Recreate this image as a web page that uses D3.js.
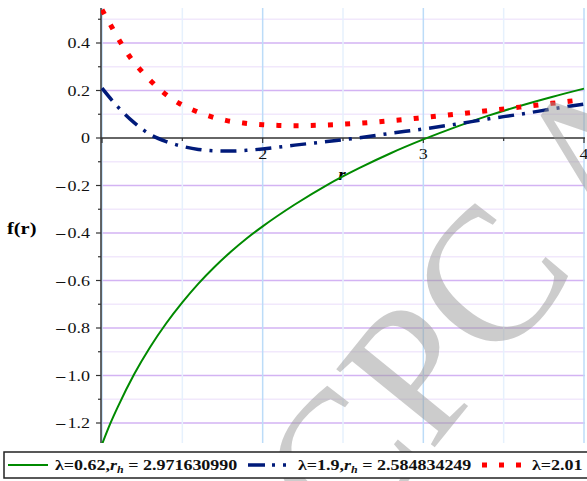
<!DOCTYPE html>
<html><head><meta charset="utf-8">
<script src="https://cdn.jsdelivr.net/npm/d3@7"></script>
<style>body{margin:0;background:#fff}svg{display:block}</style>
</head><body>
<script>
// ---- data ----
const rGreen = [1.0,1.05,1.1,1.2,1.3,1.4,1.5,1.6,1.7,1.8,1.9,2.0,2.2,2.4,2.6,2.8,3.0,3.2,3.4,3.6,3.8,4.0];
const fGreen = [-1.29,-1.205,-1.13,-0.995,-0.88,-0.78,-0.692,-0.613,-0.543,-0.48,-0.423,-0.372,-0.28,-0.198,-0.127,-0.063,-0.006,0.046,0.093,0.135,0.173,0.208];
const rBlue = [1.0,1.1,1.2,1.3,1.4,1.5,1.6,1.7,1.8,1.9,2.0,2.2,2.4,2.6,2.8,3.0,3.2,3.4,3.6,3.8,4.0];
const fBlue = [0.21,0.13,0.065,0.015,-0.015,-0.035,-0.048,-0.054,-0.055,-0.052,-0.046,-0.03,-0.015,0.001,0.02,0.038,0.058,0.08,0.1,0.122,0.143];
const rRed = [1.0,1.05,1.1,1.17,1.235,1.31,1.385,1.475,1.57,1.665,1.77,1.88,2.0,2.1,2.2,2.3,2.4,2.5,2.6,2.7,2.8,2.9,3.0,3.2,3.4,3.6,3.8,4.0];
const fRed = [0.54,0.48,0.42,0.345,0.29,0.236,0.19,0.148,0.117,0.093,0.074,0.063,0.056,0.053,0.052,0.053,0.055,0.058,0.062,0.067,0.073,0.079,0.086,0.1,0.115,0.13,0.146,0.162];
const yTickVals = [-1.2,-1.0,-0.8,-0.6,-0.4,-0.2,0,0.2,0.4];
const yTickLabels = ["1.2","1.0","0.8","0.6","0.4","0.2","0","0.2","0.4"];
const xTickVals = [2,3,4];
const xTickLabels = ["2","3","4"];
const legendNames = ["λ=0.62,", "λ=1.9,", "λ=2.01"];
const legendRh = ["2.971630990", "2.584834249", null];

const W = 587, H = 481;
const svg = d3.select("body").append("svg").attr("width", W).attr("height", H);
const x = d3.scaleLinear().domain([1, 4]).range([102, 584]);
const y = d3.scaleLinear().domain([0, 0.2]).range([138, 90.5]);
const pTop = 8, pBottom = 443, pLeft = 101, pRight = 585;
const SX = 1.2; // horizontal stretch of the reference's text

svg.append("clipPath").attr("id","clip").append("rect")
  .attr("x", pLeft).attr("y", pTop).attr("width", pRight-pLeft).attr("height", pBottom-pTop);

// grid
const g = svg.append("g");
const hm = d3.range(-13, 6).filter(k => k % 2 !== 0).map(k => k/10).filter(v => y(v) >= pTop && y(v) <= pBottom);
g.selectAll(".hm").data(hm).enter().append("line")
  .attr("x1", pLeft).attr("x2", pRight).attr("y1", d => y(d)).attr("y2", d => y(d))
  .attr("stroke", "#f1e8fc").attr("stroke-width", 1.5);
g.selectAll(".hM").data(yTickVals).enter().append("line")
  .attr("x1", pLeft).attr("x2", pRight).attr("y1", d => y(d)).attr("y2", d => y(d))
  .attr("stroke", d => d === 0 ? "none" : "#d3b3f3").attr("stroke-width", 1.5);
g.selectAll(".vm").data([1.5,2.5,3.5]).enter().append("line")
  .attr("x1", d => x(d)).attr("x2", d => x(d)).attr("y1", pTop).attr("y2", pBottom)
  .attr("stroke", "#e6f1fd").attr("stroke-width", 1.5);
g.selectAll(".vM").data([1,2,3,4]).enter().append("line")
  .attr("x1", d => x(d)).attr("x2", d => x(d)).attr("y1", pTop).attr("y2", pBottom)
  .attr("stroke", "#bcdcf8").attr("stroke-width", 1.5);

// axes
svg.append("line").attr("x1", pLeft).attr("x2", pLeft).attr("y1", pTop).attr("y2", pBottom)
  .attr("stroke", "#333").attr("stroke-width", 1.5);
svg.append("line").attr("x1", pLeft).attr("x2", pRight).attr("y1", y(0)).attr("y2", y(0))
  .attr("stroke", "#333").attr("stroke-width", 1.5);
svg.selectAll(".yt").data(yTickVals).enter().append("line")
  .attr("x1", pLeft-5).attr("x2", pLeft).attr("y1", d => y(d)).attr("y2", d => y(d))
  .attr("stroke", "#333").attr("stroke-width", 1.2);
svg.selectAll(".ytm").data(hm).enter().append("line")
  .attr("x1", pLeft-3).attr("x2", pLeft).attr("y1", d => y(d)).attr("y2", d => y(d))
  .attr("stroke", "#333").attr("stroke-width", 1.2);
svg.selectAll(".xt").data([1,2,3,4]).enter().append("line")
  .attr("x1", d => x(d)).attr("x2", d => x(d)).attr("y1", y(0)).attr("y2", y(0)+5)
  .attr("stroke", "#333").attr("stroke-width", 1.2);
svg.selectAll(".xtm").data([1.5,2.5,3.5]).enter().append("line")
  .attr("x1", d => x(d)).attr("x2", d => x(d)).attr("y1", y(0)).attr("y2", y(0)+3)
  .attr("stroke", "#333").attr("stroke-width", 1.2);

const serif = "Liberation Serif, Times New Roman, serif";
const yl = svg.selectAll(".yl").data(yTickVals).enter().append("text")
  .attr("transform", d => `translate(90,${y(d) + 5}) scale(${SX},1)`)
  .attr("text-anchor", "end").attr("font-family", serif).attr("font-size", 15).attr("fill", "#111");
yl.each(function(d, i) {
  const t = d3.select(this);
  if (d < 0) t.append("tspan").attr("font-weight", "bold").text("\u2013");
  t.append("tspan").attr("dx", d < 0 ? 2 : 0).text(yTickLabels[i]);
});
svg.selectAll(".xl").data(xTickVals).enter().append("text")
  .attr("transform", d => `translate(${x(d)},${y(0) + 21}) scale(${SX},1)`)
  .attr("text-anchor", "middle").attr("font-family", serif).attr("font-size", 15).attr("fill", "#111")
  .text((d, i) => xTickLabels[i]);

svg.append("text").attr("transform", `translate(342,180) scale(${SX},1)`).attr("text-anchor", "middle")
  .attr("font-family", serif).attr("font-size", 16).attr("font-weight", "bold").attr("font-style", "italic")
  .text("r");
svg.append("text").attr("transform", `translate(7,234) scale(${SX},1)`)
  .attr("font-family", serif).attr("font-size", 17).attr("font-weight", "bold").text("f(r)");

// curves
const line = d3.line().x(d => x(d[0])).y(d => y(d[1])).curve(d3.curveMonotoneX);
const cg = svg.append("g").attr("clip-path", "url(#clip)");
cg.append("path").datum(d3.zip(rGreen, fGreen)).attr("d", line)
  .attr("fill", "none").attr("stroke", "#008a00").attr("stroke-width", 2);
cg.append("path").datum(d3.zip(rBlue, fBlue)).attr("d", line)
  .attr("fill", "none").attr("stroke", "#001a7a").attr("stroke-width", 3.5)
  .attr("stroke-dasharray", "16 8 3 8");
cg.append("path").datum(d3.zip(rRed, fRed)).attr("d", line)
  .attr("fill", "none").attr("stroke", "#ff0000").attr("stroke-width", 5)
  .attr("stroke-dasharray", "5 12.2");

// watermark
svg.append("text").attr("transform", "translate(350,552) rotate(-51)")
  .attr("font-family", serif).attr("font-size", 192).attr("fill", "#9a9a9a").attr("fill-opacity", 0.5)
  .text("CPC A");

// legend
const lg = svg.append("g");
lg.append("rect").attr("x", 4).attr("y", 452).attr("width", 590).attr("height", 26)
  .attr("fill", "#fff").attr("stroke", "#222").attr("stroke-width", 1.5);
const ly = 465;
lg.append("line").attr("x1", 8).attr("x2", 48).attr("y1", ly).attr("y2", ly)
  .attr("stroke", "#008a00").attr("stroke-width", 2);
lg.append("line").attr("x1", 248).attr("x2", 292).attr("y1", ly).attr("y2", ly)
  .attr("stroke", "#001a7a").attr("stroke-width", 3.5).attr("stroke-dasharray", "17 7 3 8 3 8");
lg.append("line").attr("x1", 482).attr("x2", 522).attr("y1", ly).attr("y2", ly)
  .attr("stroke", "#ff0000").attr("stroke-width", 5).attr("stroke-dasharray", "5 12");
const lx = [55, 298, 532];
legendNames.forEach((nm, i) => {
  const t = lg.append("text").attr("transform", `translate(${lx[i]},${ly + 5}) scale(${SX},1)`)
    .attr("font-family", serif).attr("font-size", 15).attr("font-weight", "bold").attr("fill", "#111");
  t.append("tspan").text(nm);
  if (legendRh[i]) {
    t.append("tspan").attr("font-style", "italic").text("r");
    t.append("tspan").attr("font-style", "italic").attr("font-size", 10).attr("dy", 3).text("h");
    t.append("tspan").attr("dy", -3).text(" = " + legendRh[i]);
  }
});
</script>
</body></html>
